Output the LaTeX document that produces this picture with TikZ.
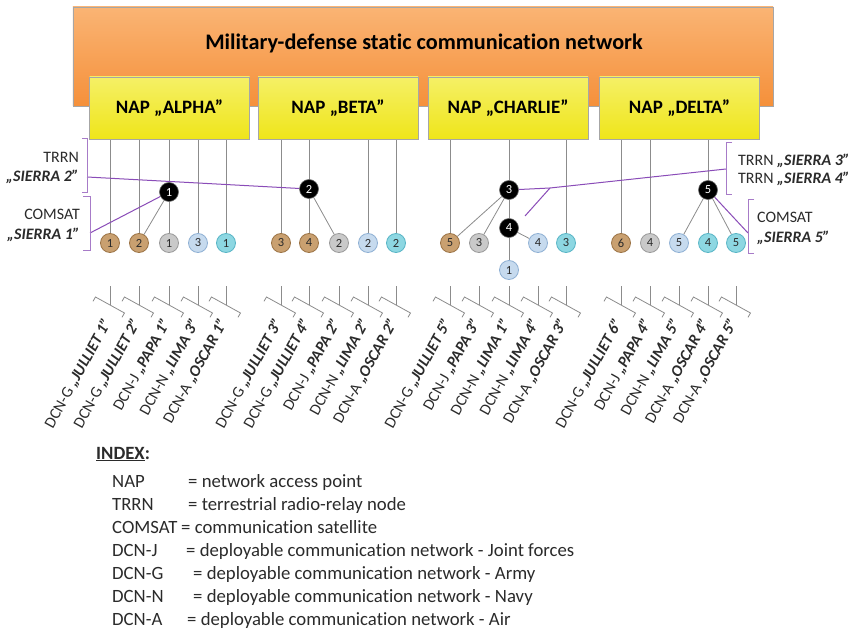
\documentclass[tikz,border=0pt]{standalone}
\usepackage{fontspec}
\setmainfont{Carlito}[Ligatures={TeX,NoCommon}]
\usetikzlibrary{backgrounds,calc}
\definecolor{orangeTop}{HTML}{FAB474}
\definecolor{orangeBot}{HTML}{F5903A}
\definecolor{yelTop}{HTML}{F5F066}
\definecolor{yelBot}{HTML}{EFE51A}
\definecolor{boxline}{HTML}{A6A6A6}
\definecolor{conn}{HTML}{8C8C8C}
\definecolor{purp}{HTML}{8A4CB8}
\definecolor{purpL}{HTML}{A77BC8}
\definecolor{brownF}{HTML}{C9A070}
\definecolor{brownD}{HTML}{9C7446}
\definecolor{grayF}{HTML}{C9C9C9}
\definecolor{grayD}{HTML}{9A9A9A}
\definecolor{lblueF}{HTML}{C6DAEE}
\definecolor{lblueD}{HTML}{8FB0D4}
\definecolor{cyanF}{HTML}{8DD7E2}
\definecolor{cyanD}{HTML}{58B5C6}
\definecolor{txtD}{HTML}{2B2B2B}
\tikzset{
  netbox/.style={draw=boxline, line width=0.8bp, top color=orangeTop, bottom color=orangeBot, minimum width=700bp, minimum height=99bp, inner sep=0},
  napbox/.style={draw=boxline, line width=0.8bp, top color=yelTop, bottom color=yelBot, minimum width=160bp, minimum height=62bp, inner sep=0, font=\fontsize{19}{22}\selectfont\bfseries},
  dot/.style={circle, line width=0.8bp, minimum size=19bp, inner sep=0, font=\fontsize{12.5}{14}\selectfont, text=txtD},
  dG/.style={dot, fill=brownF, draw=brownD},
  dJ/.style={dot, fill=grayF, draw=grayD},
  dN/.style={dot, fill=lblueF, draw=lblueD},
  dA/.style={dot, fill=cyanF, draw=cyanD},
  hub/.style={circle, fill=black, draw=black!60, line width=0.6bp, minimum size=19bp, inner sep=0, text=white, font=\fontsize{12.5}{14}\selectfont},
  wire/.style={draw=conn, line width=0.8bp},
  pline/.style={draw=purp, line width=1bp},
  sidebr/.style={draw=purpL, line width=1bp},
  sidetxt/.style={font=\fontsize{16}{19}\selectfont, inner sep=0, text=txtD},
  dcnlab/.style={font=\fontsize{16}{18}\selectfont, inner sep=0, rotate=61, anchor=east, text=txtD},
  idxtxt/.style={font=\fontsize{18.8}{22}\selectfont, inner sep=0, anchor=base west, text=txtD},
}
\begin{document}
\begin{tikzpicture}[x=1bp,y=-1bp]
\useasboundingbox (0,0) rectangle (852,631);
\begin{pgfonlayer}{background}
  \fill[white] (0,0) rectangle (852,631);
\end{pgfonlayer}

% network box and NAPs
\node[netbox] (net) at (423,56.5) {};
\node[font=\fontsize{22.3}{26}\selectfont\bfseries, inner sep=0] (title) at (424,43) {Military-defense static communication network};
\node[napbox] (alpha) at (169.5,108) {NAP „ALPHA”};
\node[napbox] (beta) at (338,108) {NAP „BETA”};
\node[napbox] (charlie) at (508,108) {NAP „CHARLIE”};
\node[napbox] (delta) at (679.5,108) {NAP „DELTA”};

% DCN circles
\node[dG] (g1) at (110,243) {1};
\node[dG] (g2) at (139,243) {2};
\node[dJ] (j1) at (169,243) {1};
\node[dN] (n3) at (198,243) {3};
\node[dA] (a1) at (226,243) {1};
\node[dG] (g3) at (281,243) {3};
\node[dG] (g4) at (309,243) {4};
\node[dJ] (j2) at (339,243) {2};
\node[dN] (n2) at (368,243) {2};
\node[dA] (a2) at (396,243) {2};
\node[dG] (g5) at (450,243) {5};
\node[dJ] (j3) at (479,243) {3};
\node[dN] (n4) at (538,243) {4};
\node[dA] (a3) at (566,243) {3};
\node[dN] (n1) at (509,270) {1};
\node[dG] (g6) at (621,243) {6};
\node[dJ] (j4) at (650,243) {4};
\node[dN] (n5) at (679,243) {5};
\node[dA] (a4) at (708,243) {4};
\node[dA] (a5) at (736,243) {5};

% hubs (TRRN / COMSAT)
\node[hub] (h1) at (169,192) {1};
\node[hub] (h2) at (309,189) {2};
\node[hub] (h3) at (509,190) {3};
\node[hub] (h4) at (509,228) {4};
\node[hub] (h5) at (708,190) {5};

% side labels
\node[sidetxt, anchor=base east] (tl1) at (79,162.5) {TRRN};
\node[sidetxt, anchor=base east] (tl2) at (79,181.5) {\textbf{\textit{„SIERRA 2"}}};
\node[sidetxt, anchor=base east] (cl1) at (80,219.5) {COMSAT};
\node[sidetxt, anchor=base east] (cl2) at (80,239.5) {\textbf{\textit{„SIERRA 1"}}};
\node[sidetxt, anchor=base west] (tr1) at (738,165.5) {TRRN \textbf{\textit{„SIERRA 3"}}};
\node[sidetxt, anchor=base west] (tr2) at (738,183.5) {TRRN \textbf{\textit{„SIERRA 4"}}};
\node[sidetxt, anchor=base west] (cr1) at (757,222.5) {COMSAT};
\node[sidetxt, anchor=base west] (cr2) at (757,242.5) {\textbf{\textit{„SIERRA 5"}}};

% side brackets
\draw[sidebr] (82,139) -- (87,139) -- (87,193) -- (82,193);
\draw[sidebr] (83,197) -- (90,197) -- (90,250) -- (83,250);
\draw[sidebr] (732,143) -- (726,143) -- (726,195) -- (732,195);
\draw[sidebr] (754,200) -- (748,200) -- (748,253) -- (754,253);
\coordinate (trrnL) at (87,177);
\coordinate (comL) at (90,233);
\coordinate (trrnR) at (726,169);
\coordinate (comR) at (748,233);
\coordinate (jn) at (550,188);
\coordinate (jn2) at (525,216);

\begin{pgfonlayer}{background}
  % ALPHA
  \draw[wire] (alpha.south -| g1) -- (g1);
  \draw[wire] (alpha.south -| g2) -- (g2);
  \draw[wire] (alpha.south -| j1) -- (j1);
  \draw[wire] (alpha.south -| n3) -- (n3);
  \draw[wire] (alpha.south -| a1) -- (a1);
  \draw[wire] (h1) -- (g2);
  % BETA
  \draw[wire] (beta.south -| g3) -- (g3);
  \draw[wire] (beta.south -| g4) -- (g4);
  \draw[wire] (beta.south -| n2) -- (n2);
  \draw[wire] (beta.south -| a2) -- (a2);
  \draw[wire] (h2) -- (j2);
  % CHARLIE
  \draw[wire] (charlie.south -| g5) -- (g5);
  \draw[wire] (charlie.south -| h3) -- (h3) -- (h4) -- (n1);
  \draw[wire] (charlie.south -| a3) -- (a3);
  \draw[wire] (h3) -- (g5);
  \draw[wire] (h3) -- (j3);
  \draw[wire] (h4) -- (n4);
  % DELTA
  \draw[wire] (delta.south -| g6) -- (g6);
  \draw[wire] (delta.south -| j4) -- (j4);
  \draw[wire] (delta.south -| a4) -- (a4);
  \draw[wire] (h5) -- (n5);
  \draw[wire] (h5) -- (a5);
  % radio relay and satellite links
  \draw[pline] (trrnL) -- (h2);
  \draw[pline] (comL) -- (h1);
  \draw[pline] (h3) -- (jn) -- (trrnR);
  \draw[pline] (jn) -- (jn2);
  \draw[pline] (h5) -- (comR);
\end{pgfonlayer}

% DCN labels with brackets
\foreach \x/\p/\b [count=\i] in {
  110/DCN-G/JULLIET 1, 139/DCN-G/JULLIET 2, 169/DCN-J/PAPA 1, 198/DCN-N/LIMA 3, 226/DCN-A/OSCAR 1,
  281/DCN-G/JULLIET 3, 309/DCN-G/JULLIET 4, 339/DCN-J/PAPA 2, 368/DCN-N/LIMA 2, 396/DCN-A/OSCAR 2,
  450/DCN-G/JULLIET 5, 479/DCN-J/PAPA 3, 509/DCN-N/LIMA 1, 538/DCN-N/LIMA 4, 566/DCN-A/OSCAR 3,
  621/DCN-G/JULLIET 6, 650/DCN-J/PAPA 4, 679/DCN-N/LIMA 5, 708/DCN-A/OSCAR 4, 736/DCN-A/OSCAR 5} {
  \coordinate (st\i) at (\x,286);
  \coordinate (bc\i) at (\x,305);
  \draw[wire] (st\i) -- (bc\i);
  \draw[wire] ($(bc\i)+(-17,-3.7)$) -- ++(2.5,-4.3) -- ++(29,16) -- ++(-2.5,4.3);
  \node[dcnlab] (lab\i) at ($(bc\i)+(-2,15)$) {\p{} \textbf{\textit{„\b”}}};
}

% index
\node[idxtxt, font=\fontsize{18.8}{22}\selectfont\bfseries] (idx) at (96,459) {\underline{INDEX}:};
\node[idxtxt] (k1) at (112,487) {NAP};
\node[idxtxt] (d1) at (188,487) {= network access point};
\node[idxtxt] (k2) at (112,510) {TRRN};
\node[idxtxt] (d2) at (188,510) {= terrestrial radio-relay node};
\node[idxtxt] (k3) at (112,533) {COMSAT};
\node[idxtxt] (d3) at (181,533) {= communication satellite};
\node[idxtxt] (k4) at (112,556) {DCN-J};
\node[idxtxt] (d4) at (186,556) {= deployable communication network - Joint forces};
\node[idxtxt] (k5) at (112,579) {DCN-G};
\node[idxtxt] (d5) at (193,579) {= deployable communication network - Army};
\node[idxtxt] (k6) at (112,602) {DCN-N};
\node[idxtxt] (d6) at (193,602) {= deployable communication network - Navy};
\node[idxtxt] (k7) at (112,625) {DCN-A};
\node[idxtxt] (d7) at (187,625) {= deployable communication network - Air};
\end{tikzpicture}
\end{document}
